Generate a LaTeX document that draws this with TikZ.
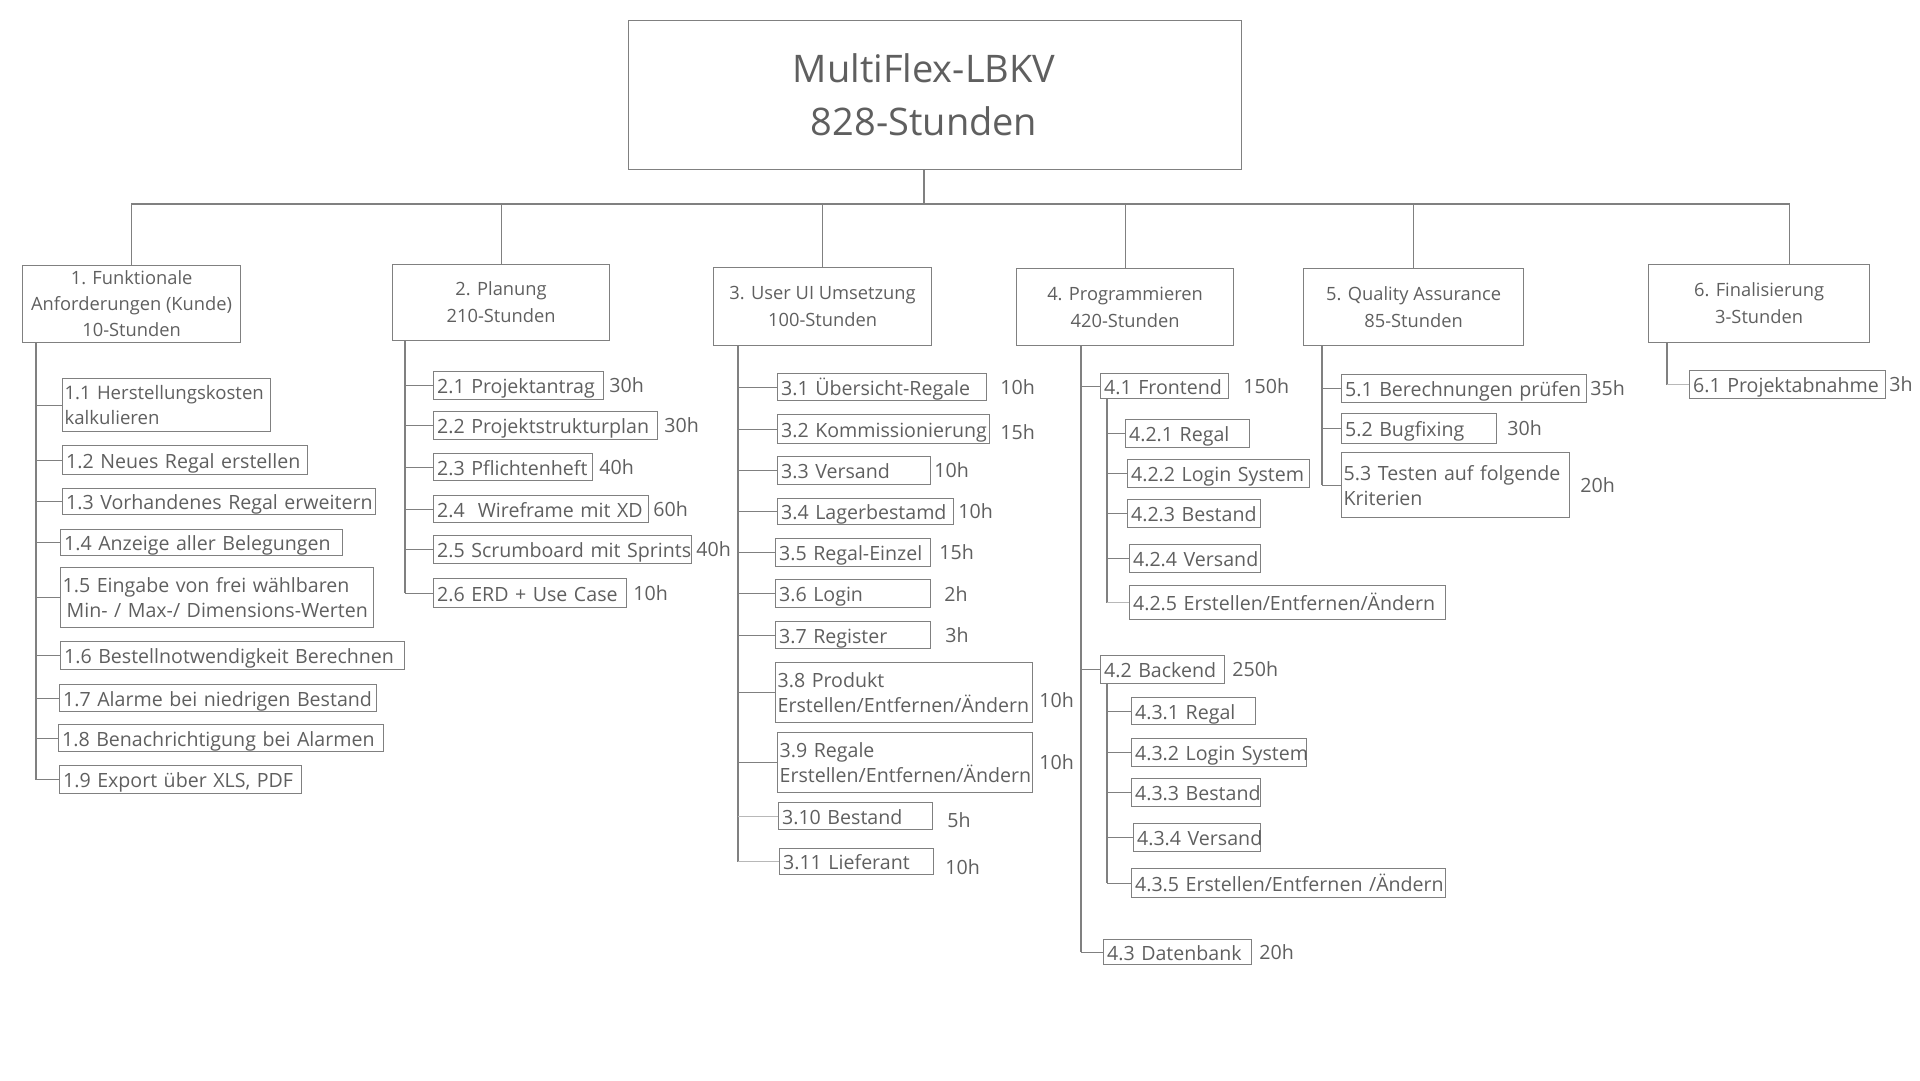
\documentclass[tikz,border=0pt]{standalone}
\usepackage{fontspec}
\setmainfont{Open Sans}
\usetikzlibrary{positioning}
\definecolor{wbsline}{HTML}{808080}
\definecolor{wbsfaint}{HTML}{B8B8B8}
\definecolor{wbstext}{HTML}{5F5F5F}

\begin{document}
\begin{tikzpicture}[x=1pt, y=-1pt,
  every node/.style={text=wbstext},
  wbs/.style={draw=wbsline, line width=1.2pt},
  faint/.style={draw=wbsfaint, line width=1.2pt},
  root/.style={wbs, anchor=north west, align=center, minimum width=613, minimum height=149,
    font=\fontsize{38}{53}\selectfont},
  phase/.style 2 args={wbs, anchor=north west, align=center, minimum width=#1, minimum height=#2,
    inner sep=0pt, font=\fontsize{18.3}{27}\selectfont},
  task2/.style 2 args={wbs, anchor=north west, minimum width=#1, minimum height=#2, text width=#1-4,
    align=left, inner xsep=2pt, inner ysep=0pt, font=\fontsize{19.6}{25}\selectfont},
  task/.style 2 args={task2={#1}{#2}, text width=#1-7, inner xsep=3.5pt, text height=18pt, text depth=2pt,
    execute at begin node=\hbox\bgroup, execute at end node=\egroup},
  hrs/.style={inner sep=0pt, font=\fontsize{19.6}{25}\selectfont}]
  \useasboundingbox (0,0) rectangle (1920,1080);

  \node[root] (root) at (628,20) {MultiFlex-LBKV\hspace*{22pt}\\828-Stunden\hspace*{22pt}};

  \node[phase={218}{77}, font=\fontsize{18.3}{26}\selectfont] (p1) at (22,265) {1. Funktionale\\Anforderungen (Kunde)\\10-Stunden};
  \node[phase={217}{76}] (p2) at (392,264) {2. Planung\\210-Stunden};
  \node[phase={218}{78}] (p3) at (713,267) {3. User UI Umsetzung\\100-Stunden};
  \node[phase={217}{77}] (p4) at (1016,268) {4. Programmieren\\420-Stunden};
  \node[phase={220}{77}] (p5) at (1303,268) {5. Quality Assurance\\85-Stunden};
  \node[phase={221}{78}] (p6) at (1648,264) {6. Finalisierung\\3-Stunden};

  % 1. Funktionale Anforderungen
  \node[task2={208}{53}, font=\fontsize{18.6}{25}\selectfont] (t11) at (62,378) {\mbox{1.1 Herstellungskosten}\\kalkulieren};
  \node[task={245}{29}] (t12) at (62,445) {1.2 Neues Regal erstellen};
  \node[task={313}{26}] (t13) at (62,488) {1.3 Vorhandenes Regal erweitern};
  \node[task={282}{26}] (t14) at (60,529) {1.4 Anzeige aller Belegungen};
  \node[task2={313}{60}] (t15) at (60,567) {1.5 Eingabe von frei wählbaren\\\hspace*{4pt}Min- / Max-/ Dimensions-Werten};
  \node[task={344}{28}] (t16) at (60,641) {1.6 Bestellnotwendigkeit Berechnen};
  \node[task={317}{27}] (t17) at (59,684) {1.7 Alarme bei niedrigen Bestand};
  \node[task={325}{27}] (t18) at (58,724) {1.8 Benachrichtigung bei Alarmen};
  \node[task={242}{28}] (t19) at (59,765) {1.9 Export über XLS, PDF};

  % 2. Planung
  \node[task={170}{28}] (t21) at (433,371) {2.1 Projektantrag};
  \node[task={224}{28}] (t22) at (433,411) {2.2 Projektstrukturplan};
  \node[task={159}{27}] (t23) at (433,453) {2.3 Pflichtenheft};
  \node[task={215}{27}] (t24) at (433,495) {2.4 \ Wireframe mit XD};
  \node[task={258}{28}] (t25) at (433,535) {2.5 Scrumboard mit Sprints};
  \node[task={193}{29}] (t26) at (433,578) {2.6 ERD + Use Case};
  \node[hrs, right=5pt of t21] (h21) {30h};
  \node[hrs, right=6pt of t22] (h22) {30h};
  \node[hrs, right=6pt of t23] (h23) {40h};
  \node[hrs, right=4pt of t24] (h24) {60h};
  \node[hrs, right=4pt of t25] (h25) {40h};
  \node[hrs, right=6pt of t26] (h26) {10h};

  % 3. User UI Umsetzung
  \node[task={209}{27}] (t31) at (777,373) {3.1 Übersicht-Regale};
  \node[task={212}{29}] (t32) at (777,414) {3.2 Kommissionierung};
  \node[task={153}{28}] (t33) at (777,456) {3.3 Versand};
  \node[task={176}{26}] (t34) at (777,498) {3.4 Lagerbestamd};
  \node[task={155}{28}] (t35) at (775,538) {3.5 Regal-Einzel};
  \node[task={155}{28}] (t36) at (775,579) {3.6 Login};
  \node[task={155}{27}] (t37) at (775,621) {3.7 Register};
  \node[task2={257}{60}] (t38) at (775,662) {3.8 Produkt\\Erstellen/Entfernen/Ändern};
  \node[task2={255}{60}] (t39) at (777,732) {3.9 Regale\\Erstellen/Entfernen/Ändern};
  \node[task={154}{27}] (t310) at (778,802) {3.10 Bestand};
  \node[task={154}{26}] (t311) at (779,848) {3.11 Lieferant};
  \node[hrs, right=13pt of t31] (h31) {10h};
  \node[hrs, right=10pt of t32, yshift=-3pt] (h32) {15h};
  \node[hrs, right=3pt of t33] (h33) {10h};
  \node[hrs, right=4pt of t34] (h34) {10h};
  \node[hrs, right=8pt of t35] (h35) {15h};
  \node[hrs, right=13pt of t36] (h36) {2h};
  \node[hrs, right=14pt of t37] (h37) {3h};
  \node[hrs, right=6pt of t38, yshift=-8pt] (h38) {10h};
  \node[hrs, right=6pt of t39] (h39) {10h};
  \node[hrs, right=14pt of t310, yshift=-4pt] (h310) {5h};
  \node[hrs, right=11pt of t311, yshift=-6pt] (h311) {10h};

  % 4. Programmieren
  \node[task={128}{25}] (t41) at (1100,373) {4.1 Frontend};
  \node[task={124}{28}] (t421) at (1125,419) {4.2.1 Regal};
  \node[task={182}{28}] (t422) at (1127,459) {4.2.2 Login System};
  \node[task={133}{28}] (t423) at (1127,499) {4.2.3 Bestand};
  \node[task={131}{28}] (t424) at (1129,544) {4.2.4 Versand};
  \node[task={316}{34}] (t425) at (1129,585) {4.2.5 Erstellen/Entfernen/Ändern};
  \node[task={124}{28}] (t42) at (1100,655) {4.2 Backend};
  \node[task={124}{27}] (t431) at (1131,697) {4.3.1 Regal};
  \node[task={175}{28}] (t432) at (1131,738) {4.3.2 Login System};
  \node[task={129}{28}] (t433) at (1131,778) {4.3.3 Bestand};
  \node[task={127}{28}] (t434) at (1133,823) {4.3.4 Versand};
  \node[task={314}{29}] (t435) at (1131,868) {4.3.5 Erstellen/Entfernen /Ändern};
  \node[task={148}{25}] (t43) at (1103,939) {4.3 Datenbank};
  \node[hrs, right=14pt of t41] (h41) {150h};
  \node[hrs, right=7pt of t42] (h42) {250h};
  \node[hrs, right=7pt of t43] (h43) {20h};

  % 5. Quality Assurance
  \node[task={245}{28}] (t51) at (1341,374) {5.1 Berechnungen prüfen};
  \node[task={155}{30}] (t52) at (1341,413) {5.2 Bugfixing};
  \node[task2={228}{65}] (t53) at (1341,452) {5.3 Testen auf folgende\\Kriterien};
  \node[hrs, right=3pt of t51] (h51) {35h};
  \node[hrs, right=10pt of t52] (h52) {30h};
  \node[hrs, right=10pt of t53] (h53) {20h};

  % 6. Finalisierung
  \node[task={196}{28}] (t61) at (1689,370) {6.1 Projektabnahme};
  \node[hrs, right=3pt of t61] (h61) {3h};

  % connectors
  \coordinate (hub) at (924,204);
  \draw[wbs] (root.south -| hub) -- (hub);
  \foreach \p in {p1,p2,p3,p4,p5}
    \draw[wbs] (hub) -| (\p.north);
  \draw[wbs] (hub) -| ([xshift=30pt]p6.north);

  \coordinate (k1) at ([xshift=14pt]p1.south west);
  \draw[wbs] (k1) -- (k1 |- t19.west);
  \foreach \t in {t11,t12,t13,t14,t15,t16,t17,t18,t19}
    \draw[wbs] (k1 |- \t.west) -- (\t.west);

  \coordinate (k2) at ([xshift=13pt]p2.south west);
  \draw[wbs] (k2) -- (k2 |- t26.west);
  \foreach \t in {t21,t22,t23,t24,t25,t26}
    \draw[wbs] (k2 |- \t.west) -- (\t.west);

  \coordinate (k3) at ([xshift=25pt]p3.south west);
  \draw[wbs] (k3) -- (k3 |- t311.west);
  \foreach \t in {t31,t32,t33,t34,t35,t36,t37,t38,t39}
    \draw[wbs] (k3 |- \t.west) -- (\t.west);
  \foreach \t in {t310,t311}
    \draw[faint] (k3 |- \t.west) -- (\t.west);

  \coordinate (k4) at ([xshift=65pt]p4.south west);
  \draw[wbs] (k4) -- (k4 |- t43.west);
  \foreach \t in {t41,t42,t43}
    \draw[wbs] (k4 |- \t.west) -- (\t.west);

  \coordinate (k41) at ([xshift=7pt]t41.south west);
  \draw[wbs] (k41) -- (k41 |- t425.west);
  \foreach \t in {t421,t422,t423,t424}
    \draw[wbs] (k41 |- \t.west) -- (\t.west);
  \draw[faint] (k41 |- t425.west) -- (t425.west);

  \coordinate (k42) at ([xshift=7pt]t42.south west);
  \draw[wbs] (k42) -- (k42 |- t435.west);
  \foreach \t in {t431,t432,t433,t434,t435}
    \draw[wbs] (k42 |- \t.west) -- (\t.west);

  \coordinate (k5) at ([xshift=19pt]p5.south west);
  \draw[wbs] (k5) -- (k5 |- t53.west);
  \foreach \t in {t51,t52,t53}
    \draw[wbs] (k5 |- \t.west) -- (\t.west);

  \coordinate (k6) at ([xshift=19pt]p6.south west);
  \draw[wbs] (k6) -- (k6 |- t61.west);
  \draw[faint] (k6 |- t61.west) -- (t61.west);
\end{tikzpicture}
\end{document}
